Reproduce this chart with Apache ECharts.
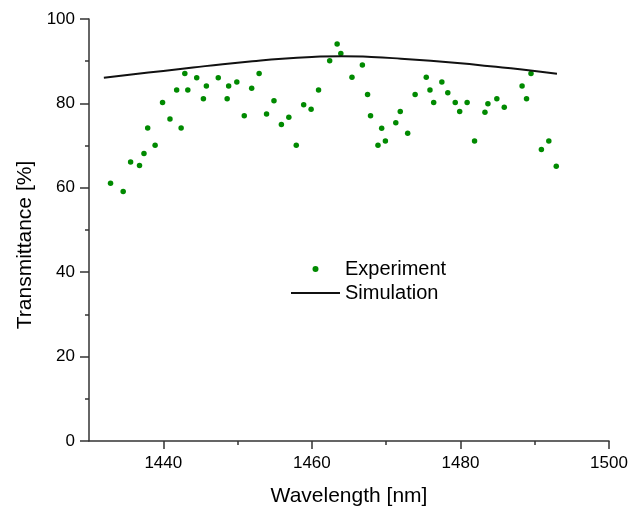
<!DOCTYPE html>
<html>
<head>
<meta charset="utf-8">
<script src="https://cdn.jsdelivr.net/npm/echarts@6/dist/echarts.min.js"></script>
<style>html,body{margin:0;padding:0;background:#fff}#c{width:640px;height:507px}</style>
</head>
<body>
<div id="c"></div>
<script>
// Experiment data: wavelength (nm), transmittance (%)
const expWavelength = [1432.9,1434.6,1435.6,1436.8,1437.4,1437.9,1438.9,1439.9,1440.9,1441.8,1442.4,1442.9,1443.3,1444.5,1445.4,1445.8,1447.4,1448.6,1448.8,1449.9,1450.9,1451.9,1452.9,1453.9,
  1454.9,1455.9,1456.9,1457.9,1458.9,1459.9,1460.9,1462.4,1463.4,1463.9,1465.4,1466.8,1467.5,1467.9,1468.9,1469.4,1469.9,1471.3,1471.9,1472.9,1473.9,1475.4,1475.9,1476.4,
  1477.5,1478.3,1479.3,1479.9,1480.9,1481.9,1483.3,1483.7,1484.9,1485.9,1488.3,1488.9,1489.5,1490.9,1491.9,1492.9];
const expTransmittance = [61.1,59.1,66.1,65.3,68.1,74.2,70.1,80.2,76.3,83.2,74.2,87.1,83.2,86.1,81.1,84.1,86.1,81.1,84.1,85.1,77.1,83.6,87.1,77.5,
  80.6,75.0,76.7,70.1,79.7,78.6,83.2,90.1,94.1,91.8,86.2,89.1,82.1,77.1,70.1,74.1,71.1,75.4,78.1,72.9,82.1,86.2,83.2,80.2,
  85.1,82.5,80.2,78.1,80.2,71.1,77.9,79.9,81.1,79.1,84.1,81.1,87.1,69.1,71.1,65.1];
// Simulation curve
const simWavelength = [1432,1436,1440,1444,1448,1452,1456,1460,1464,1468,1472,1476,1480,1484,1488,1493];
const simTransmittance = [86.1,86.9,87.7,88.5,89.3,90.0,90.6,91.0,91.2,91.0,90.6,90.1,89.5,88.8,88.1,87.0];
// Axis ticks
const xMajorTicks = [1440,1460,1480,1500];
const xMinorTicks = [1450,1470,1490];

const expData = expWavelength.map((x,i)=>[x, expTransmittance[i]]);
const simData = simWavelength.map((x,i)=>[x, simTransmittance[i]]);

const font = 'Liberation Sans, Arial, sans-serif';
const axisColor = '#333';
const textColor = '#000';
const chart = echarts.init(document.getElementById('c'), null, {renderer:'canvas'});
chart.setOption({
  animation: false,
  backgroundColor: '#fff',
  grid: {left: 89, right: 31, top: 19, bottom: 66, containLabel: false, outerBoundsMode: 'none'},
  legend: {
    orient: 'vertical', left: 286, top: 254, itemGap: 4, itemWidth: 49, itemHeight: 6,
    textStyle: {fontFamily: font, fontSize: 20, color: textColor},
    data: [
      {name: 'Experiment', icon: 'circle'},
      {name: 'Simulation', icon: 'path://M0 0H49V2H0Z'}
    ]
  },
  xAxis: [{
    type: 'value', min: 1430, max: 1500,
    name: 'Wavelength [nm]', nameLocation: 'middle', nameGap: 45,
    nameTextStyle: {fontFamily: font, fontSize: 21, color: textColor},
    axisLine: {show: true, lineStyle: {color: axisColor, width: 1.5}},
    axisTick: {show: true, customValues: xMajorTicks, length: 8, lineStyle: {color: axisColor, width: 1.5}},
    axisLabel: {customValues: xMajorTicks, margin: 14, fontFamily: font, fontSize: 17, color: textColor,
      formatter: v => String(v)},
    splitLine: {show: false}
  }, {
    type: 'value', min: 1430, max: 1500, position: 'bottom',
    axisLine: {show: false},
    axisTick: {show: true, customValues: xMinorTicks, length: 4, lineStyle: {color: axisColor, width: 1.5}},
    axisLabel: {show: false},
    splitLine: {show: false}
  }],
  yAxis: {
    type: 'value', min: 0, max: 100, interval: 20,
    name: 'Transmittance [%]', nameLocation: 'middle', nameGap: 53,
    nameTextStyle: {fontFamily: font, fontSize: 21, color: textColor, padding: [0, 30, 0, 0]},
    axisLine: {show: true, lineStyle: {color: axisColor, width: 1.5}},
    axisTick: {show: true, length: 9, lineStyle: {color: axisColor, width: 1.5}},
    minorTick: {show: true, splitNumber: 2, length: 4, lineStyle: {color: axisColor, width: 1.5}},
    axisLabel: {margin: 14, fontFamily: font, fontSize: 17, color: textColor},
    splitLine: {show: false}
  },
  series: [{
    name: 'Experiment', type: 'scatter', data: expData,
    symbol: 'circle', symbolSize: 5.5,
    itemStyle: {color: '#008a00', opacity: 1}
  }, {
    name: 'Simulation', type: 'line', data: simData, smooth: true,
    symbol: 'none', showSymbol: false,
    lineStyle: {color: '#111', width: 2},
    itemStyle: {color: '#111'}
  }]
});
</script>
</body>
</html>
